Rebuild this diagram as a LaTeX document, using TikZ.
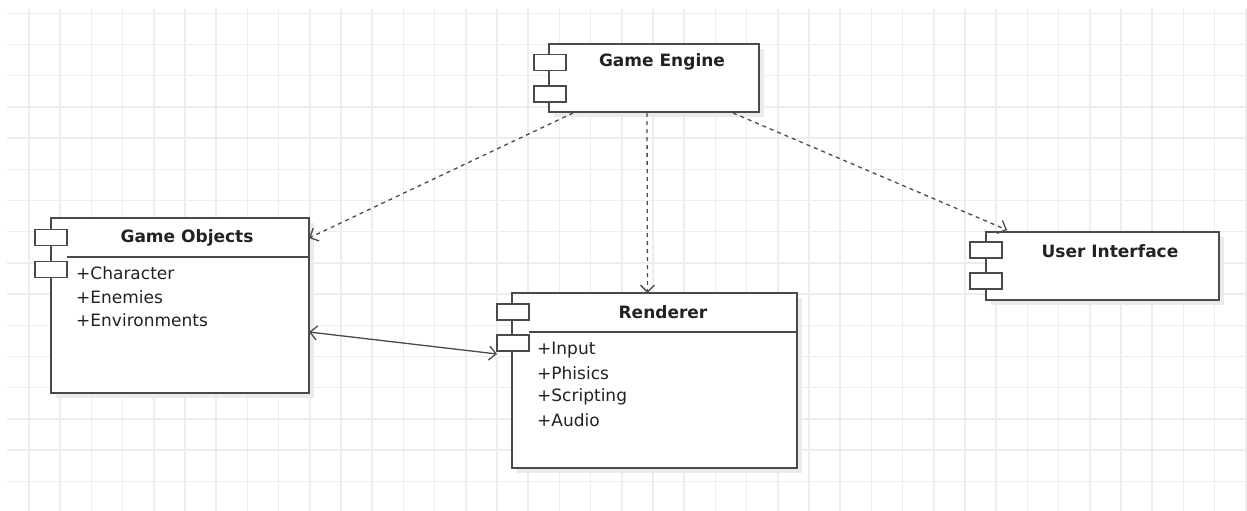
\documentclass[tikz,border=0pt]{standalone}
\usepackage{fontspec}
\setmainfont{DejaVu Sans}
\usetikzlibrary{arrows.meta,calc,shadows}
\definecolor{gridc}{HTML}{EDEDED}
\definecolor{edgec}{HTML}{4A4A4A}
\definecolor{txtc}{HTML}{222222}
\definecolor{shadc}{HTML}{EBEBEB}
\begin{document}
\begin{tikzpicture}[x=1pt,y=-1pt,
 comp/.style={draw=edgec, line width=1.6pt, fill=white, anchor=north west, inner sep=0pt, outer sep=0pt,
   drop shadow={shadow xshift=5pt, shadow yshift=-5pt, fill=shadc, opacity=1, draw=none}},
 icon/.style={draw=edgec, line width=1.4pt, fill=white, anchor=north west, minimum width=32pt, minimum height=16pt, inner sep=0pt, outer sep=0pt},
 ttl/.style={font=\fontsize{17}{20}\selectfont\bfseries, text=txtc, inner sep=0pt},
 item/.style={font=\fontsize{17}{20}\selectfont, text=txtc, anchor=west, inner sep=0pt},
 sep/.style={draw=edgec, line width=1.6pt},
 dep/.style={draw=edgec, line width=1.3pt, dash pattern=on 4pt off 4pt, -{Straight Barb[length=7pt,width=14pt]}},
 assoc/.style={draw=edgec, line width=1.3pt, {Straight Barb[length=7pt,width=14pt]}-{Straight Barb[length=7pt,width=14pt]}},
]
\useasboundingbox (0,0) rectangle (1247,511);
\fill[white] (0,0) rectangle (1247,511);
% grid
\foreach \i in {0,...,39} \draw[gridc, line width=1.5pt] ({29+31.2*\i},9) -- ({29+31.2*\i},511);
\foreach \j in {0,...,15} \draw[gridc, line width=1.5pt] (7,{13.3+31.2*\j}) -- (1247,{13.3+31.2*\j});

% Game Engine
\node[comp, minimum width=210pt, minimum height=68pt] (ge) at (549,44) {};
\node[icon] (ge1) at (534,54.5) {};
\node[icon] (ge2) at (534,86) {};
\node[ttl] (get) at (662,62) {Game Engine};

% Game Objects
\node[comp, minimum width=258pt, minimum height=175pt] (go) at (51,218) {};
\draw[sep] ($(go.north west)+(16,39)$) -- ($(go.north east)+(0,39)$);
\node[icon] (go1) at (35,229.5) {};
\node[icon] (go2) at (35,261.5) {};
\node[ttl] (got) at (187,238) {Game Objects};
\node[item] (goa) at (76,273.3) {+Character};
\node[item] (gob) at (76,297) {+Enemies};
\node[item] (goc) at (76,320.3) {+Environments};

% Renderer
\node[comp, minimum width=285pt, minimum height=175pt] (r) at (512,293) {};
\draw[sep] ($(r.north west)+(17,39)$) -- ($(r.north east)+(0,39)$);
\node[icon] (r1) at (497,304) {};
\node[icon] (r2) at (497,335) {};
\node[ttl] (rt) at (663,312) {Renderer};
\node[item] (ra) at (537,350) {+Input};
\node[item] (rb) at (537,373.3) {+Phisics};
\node[item] (rc) at (537,396.7) {+Scripting};
\node[item] (rd) at (537,420) {+Audio};

% User Interface
\node[comp, minimum width=233pt, minimum height=68pt] (ui) at (986,232) {};
\node[icon] (ui1) at (970,242) {};
\node[icon] (ui2) at (970,273) {};
\node[ttl] (uit) at (1110,251) {User Interface};

% connectors
\draw[dep] ($(ge.south west)+(24,1)$) -- ($(go.north east)+(0,20)$);
\draw[dep] ($(ge.south)+(-7,1)$) -- ($(r.north)+(-7,0)$);
\draw[dep] ($(ge.south west)+(184,1)$) -- ($(ui.north west)+(21,-2)$);
\draw[assoc] ($(go.north east)+(0,114)$) -- ($(r2.west)+(0,11)$);
\end{tikzpicture}
\end{document}
